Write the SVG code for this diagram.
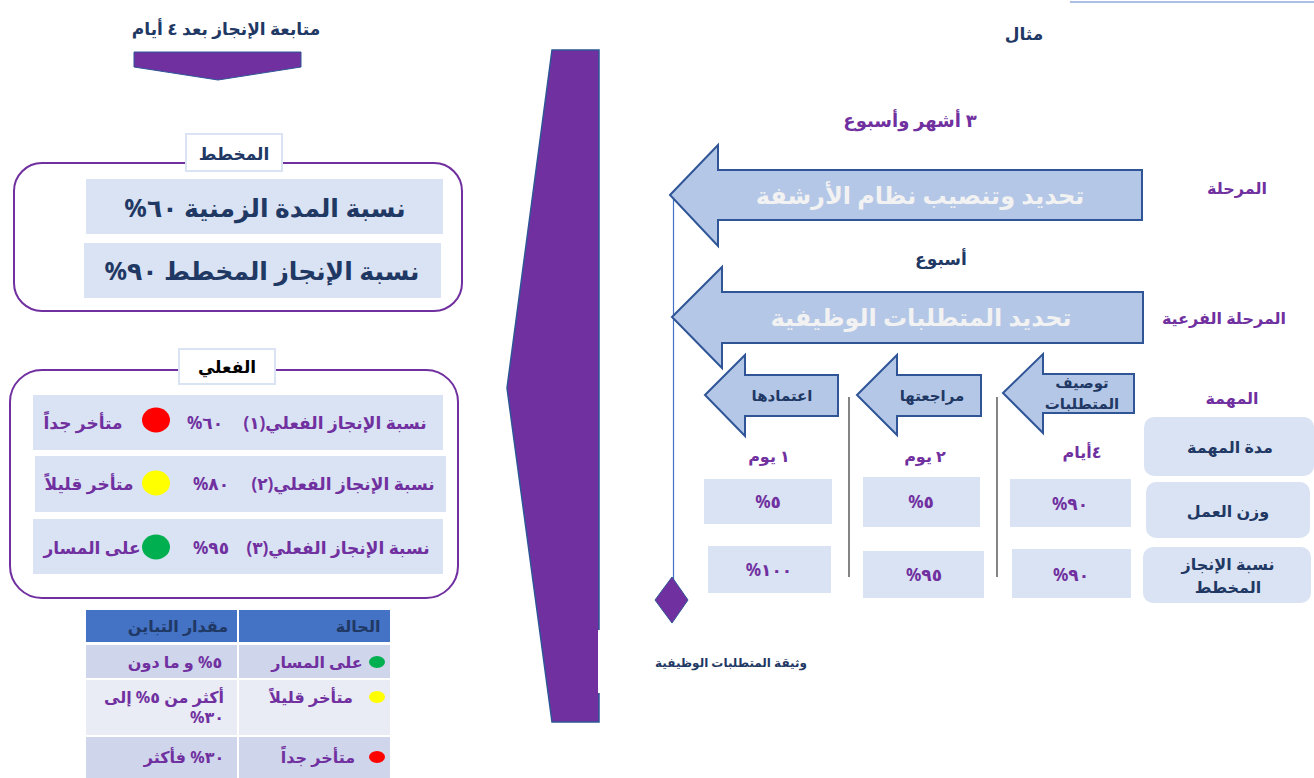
<svg xmlns="http://www.w3.org/2000/svg" width="1314" height="778" viewBox="0 0 1314 778">
<style>
text{font-family:"Noto Sans","DejaVu Sans",sans-serif;font-weight:bold;direction:rtl;text-anchor:middle;dominant-baseline:central}
.navy{fill:#1f3864}
.pur{fill:#7030a0}
.lt{fill:#f2f2f2}
.cell{fill:#dae3f3}
.blk{fill:#b4c7e7;stroke:#2f5597;stroke-width:2;stroke-linejoin:miter}
.frame{fill:#fff;stroke:#7030a0;stroke-width:2}
.tag{fill:#fff;stroke:#dae3f3;stroke-width:2}
</style>
<rect width="1314" height="778" fill="#fff"/>
<g id="connectors">
<line x1="1070" y1="2" x2="1314" y2="2" stroke="#8faadc" stroke-width="1.5"/>
<line x1="673.5" y1="198" x2="673.5" y2="580" stroke="#4472c4" stroke-width="1.2"/>
<line x1="849" y1="397" x2="849" y2="577" stroke="#333" stroke-width="1.2"/>
<line x1="997" y1="397" x2="997" y2="577" stroke="#333" stroke-width="1.2"/>
</g>
<g id="title">
<text x="226" y="28" class="navy" font-size="17">متابعة الإنجاز بعد ٤ أيام</text>
<polygon points="134,52 301,52 301,67 218,80 134,67" fill="#7030a0" stroke="#2f5597" stroke-width="1"/>
</g>
<g id="planned">
<rect x="14" y="163" width="448" height="148" rx="28" class="frame"/>
<rect x="186" y="134" width="96" height="37" class="tag"/>
<text x="234" y="153" class="navy" font-size="17">المخطط</text>
<rect x="86" y="179" width="357" height="55" class="cell"/>
<text x="265" y="207" class="navy" font-size="25">نسبة المدة الزمنية ٦٠%</text>
<rect x="84" y="243" width="357" height="55" class="cell"/>
<text x="262" y="270" class="navy" font-size="25">نسبة الإنجاز المخطط ٩٠%</text>
</g>
<g id="actual">
<rect x="10" y="370" width="448" height="228" rx="32" class="frame"/>
<rect x="179" y="349" width="96" height="35" class="tag"/>
<text x="227" y="366" fill="#000" font-size="17">الفعلي</text>
<rect x="33" y="395" width="410" height="55" class="cell"/>
<text x="335" y="422" class="pur" font-size="17">نسبة الإنجاز الفعلي(١)</text>
<text x="205" y="422" class="pur" font-size="17">٦٠%</text>
<ellipse cx="156" cy="420" rx="14" ry="12.5" fill="#ff0000"/>
<text x="83" y="422" class="pur" font-size="17">متأخر جداً</text>
<rect x="35" y="456" width="411" height="56" class="cell"/>
<text x="343" y="483" class="pur" font-size="17">نسبة الإنجاز الفعلي(٢)</text>
<text x="211" y="483" class="pur" font-size="17">٨٠%</text>
<ellipse cx="156" cy="483" rx="14" ry="12.5" fill="#ffff00"/>
<text x="89" y="483" class="pur" font-size="17">متأخر قليلاً</text>
<rect x="33" y="519" width="410" height="55" class="cell"/>
<text x="338" y="547" class="pur" font-size="17">نسبة الإنجاز الفعلي(٣)</text>
<text x="211" y="547" class="pur" font-size="17">٩٥%</text>
<text x="92" y="547" class="pur" font-size="17">على المسار</text>
<ellipse cx="156" cy="547" rx="14" ry="12.5" fill="#00b050"/>
</g>
<g id="legend">
<rect x="86" y="610" width="151" height="32" fill="#4472c4"/>
<rect x="239" y="610" width="151" height="32" fill="#4472c4"/>
<text x="178" y="626" class="navy" font-size="16" font-weight="normal">مقدار التباين</text>
<text x="358" y="626" class="navy" font-size="16" font-weight="normal">الحالة</text>
<rect x="86" y="645" width="151" height="33" fill="#cfd5ea"/>
<rect x="239" y="645" width="151" height="33" fill="#cfd5ea"/>
<text x="175" y="662" class="pur" font-size="16">٥% و ما دون</text>
<ellipse cx="377" cy="662" rx="8" ry="6" fill="#00b050"/>
<text x="317" y="662" class="pur" font-size="16">على المسار</text>
<rect x="86" y="680" width="151" height="55" fill="#e9ebf5"/>
<rect x="239" y="680" width="151" height="55" fill="#e9ebf5"/>
<text x="164" y="697" class="pur" font-size="16">أكثر من ٥% إلى</text>
<text x="207" y="717" class="pur" font-size="16">٣٠%</text>
<ellipse cx="377" cy="697" rx="8" ry="6" fill="#ffff00"/>
<text x="311" y="697" class="pur" font-size="16">متأخر قليلاً</text>
<rect x="86" y="737" width="151" height="41" fill="#cfd5ea"/>
<rect x="239" y="737" width="151" height="41" fill="#cfd5ea"/>
<text x="184" y="757" class="pur" font-size="16">٣٠% فأكثر</text>
<ellipse cx="377" cy="757" rx="8" ry="6" fill="#ff0000"/>
<text x="318" y="757" class="pur" font-size="16">متأخر جداً</text>
</g>
<g id="chevron">
<polygon points="552,50 599,50 599,722 552,722 507,388" fill="#7030a0" stroke="#2f5597" stroke-width="1.5"/>
<rect x="598" y="630" width="4" height="63" fill="#fff"/>
<rect x="590" y="630" width="8" height="63" fill="#7030a0"/>
</g>
<g id="example">
<text x="1024" y="33" class="navy" font-size="17">مثال</text>
<text x="910" y="120" class="pur" font-size="18">٣ أشهر وأسبوع</text>
<text x="1237" y="188" class="pur" font-size="16">المرحلة</text>
<text x="941" y="258" class="navy" font-size="17">أسبوع</text>
<text x="1224" y="318" class="pur" font-size="16">المرحلة الفرعية</text>
<text x="1232" y="398" class="pur" font-size="16">المهمة</text>
</g>
<g id="phase">
<polygon points="670,195 718,145 718,170 1142,170 1142,220 718,220 718,246" class="blk"/>
<text x="920" y="194" class="lt" font-size="24">تحديد وتنصيب نظام الأرشفة</text>
</g>
<g id="subphase">
<polygon points="672,317 722,267 722,292 1143,292 1143,343 722,343 722,368" class="blk"/>
<text x="921" y="316" class="lt" font-size="24">تحديد المتطلبات الوظيفية</text>
</g>
<g id="task1">
<polygon points="1003,393 1043,354 1043,374 1134,374 1134,413 1043,413 1043,433" class="blk"/>
<text x="1082" y="382" class="navy" font-size="15">توصيف</text>
<text x="1082" y="403" class="navy" font-size="15">المتطلبات</text>
</g>
<g id="task2">
<polygon points="857,395 897,355 897,375 981,375 981,416 897,416 897,435" class="blk"/>
<text x="932" y="395" class="navy" font-size="15">مراجعتها</text>
</g>
<g id="task3">
<polygon points="705,395 745,355 745,375 838,375 838,416 745,416 745,436" class="blk"/>
<text x="782" y="395" class="navy" font-size="15">اعتمادها</text>
</g>
<g id="rowlabels">
<rect x="1144" y="417" width="170" height="59" rx="10" class="cell"/>
<text x="1230" y="447" class="navy" font-size="16">مدة المهمة</text>
<rect x="1146" y="482" width="164" height="56" rx="10" class="cell"/>
<text x="1228" y="511" class="navy" font-size="16">وزن العمل</text>
<rect x="1143" y="547" width="168" height="56" rx="10" class="cell"/>
<text x="1228" y="564" class="navy" font-size="16">نسبة الإنجاز</text>
<text x="1228" y="587" class="navy" font-size="16">المخطط</text>
</g>
<g id="col1">
<text x="1082" y="452" class="pur" font-size="16">٤أيام</text>
<rect x="1010" y="479" width="121" height="48" class="cell"/>
<text x="1070" y="503" class="pur" font-size="17">٩٠%</text>
<rect x="1012" y="549" width="119" height="49" class="cell"/>
<text x="1071" y="574" class="pur" font-size="17">٩٠%</text>
</g>
<g id="col2">
<text x="925" y="456" class="pur" font-size="16">٢ يوم</text>
<rect x="863" y="477" width="117" height="50" class="cell"/>
<text x="921" y="501" class="pur" font-size="17">٥%</text>
<rect x="863" y="551" width="121" height="47" class="cell"/>
<text x="924" y="574" class="pur" font-size="17">٩٥%</text>
</g>
<g id="col3">
<text x="769" y="456" class="pur" font-size="16">١ يوم</text>
<rect x="704" y="479" width="128" height="45" class="cell"/>
<text x="768" y="501" class="pur" font-size="17">٥%</text>
<rect x="708" y="546" width="123" height="47" class="cell"/>
<text x="769" y="569" class="pur" font-size="17">١٠٠%</text>
</g>
<g id="milestone">
<polygon points="672,577 688,600 672,623 655,600" fill="#7030a0" stroke="#2f5597" stroke-width="1"/>
</g>
<g id="doc">
<text x="731" y="662" class="navy" font-size="12">وثيقة المتطلبات الوظيفية</text>
</g>
</svg>
